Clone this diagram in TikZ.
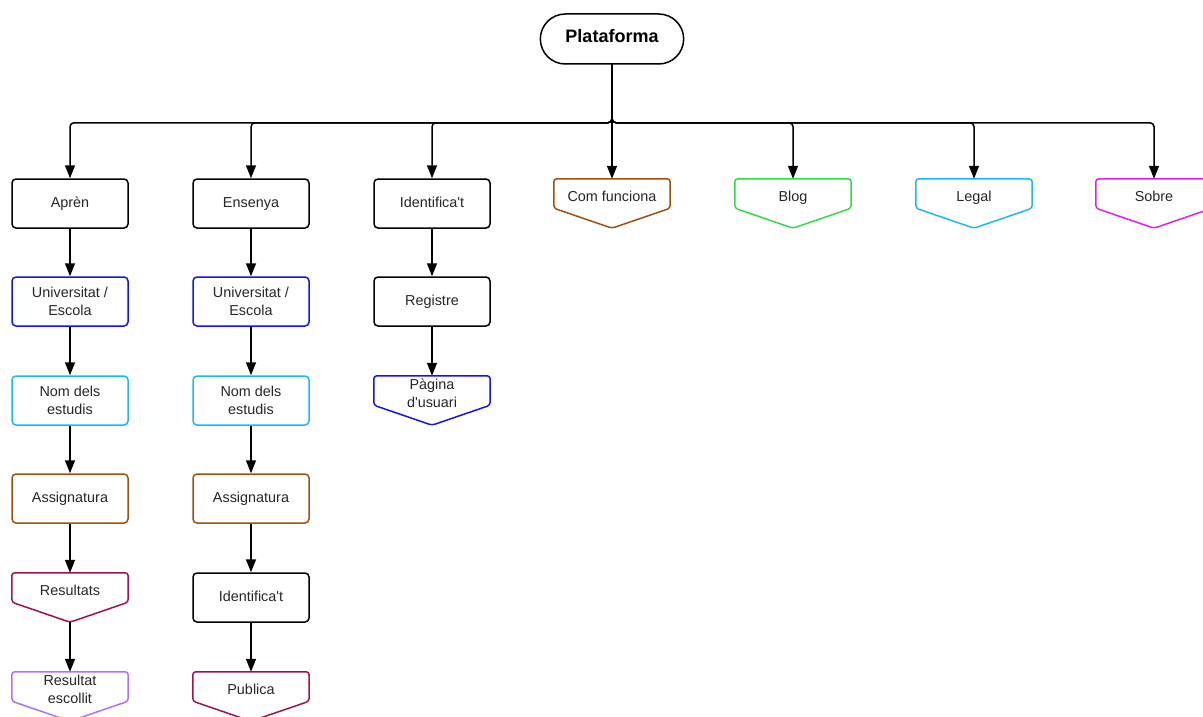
\documentclass[tikz,border=0pt]{standalone}
\usepackage{fontspec}
\setmainfont{Liberation Sans}[Ligatures=TeXOff]
\usetikzlibrary{arrows.meta,shapes.misc,calc}
\definecolor{cblue}{HTML}{1414F0}
\definecolor{ccyan}{HTML}{1CB8F0}
\definecolor{cbrown}{HTML}{A0500F}
\definecolor{ccrim}{HTML}{A0105A}
\definecolor{cgreen}{HTML}{33D84A}
\definecolor{clav}{HTML}{B070FF}
\definecolor{cmag}{HTML}{E020E8}
\tikzset{
  box/.style={draw=#1, line width=1.5pt, rounded corners=4pt, minimum width=116pt, minimum height=49pt,
    inner sep=2pt, align=center, font=\fontsize{14.4}{18}\selectfont, text=black!85},
  box/.default=black,
  one/.style={text height=10.5pt, text depth=3pt},
  pentnode/.style={minimum width=116pt, minimum height=34pt, inner sep=1pt, align=center,
    font=\fontsize{14.4}{18}\selectfont, text=black!85},
  pentone/.style={pentnode, text height=12.5pt, text depth=1pt},
  pentline/.style={draw=#1, line width=1.5pt, rounded corners=3pt},
  conn/.style={line width=1.5pt, rounded corners=4pt, -{Triangle[length=13pt,width=10pt]}},
  root/.style={draw, line width=1.5pt, rounded rectangle, minimum width=150pt, minimum height=50pt,
    font=\fontsize{18}{22}\selectfont\bfseries}
}
\newcommand{\pentdraw}[2]{%
  \coordinate (#1-tip) at ([yshift=-15pt]#1.south);
  \draw[pentline=#2] (#1.north west) -- (#1.north east) -- ([yshift=5pt]#1.south east) -- (#1-tip) -- ([yshift=5pt]#1.south west) -- cycle;}
\begin{document}
\begin{tikzpicture}[x=1pt,y=-1pt]
\useasboundingbox (0,0) rectangle (1203,717);
\clip (0,0) rectangle (1203,717);
\node[root, one] (plat) at (612,39) {Plataforma};
% row 1
\node[box, one] (apren) at (70,203.5) {Aprèn};
\node[box, one] (ens) at (251,203.5) {Ensenya};
\node[box, one] (ident) at (432,203.5) {Identifica't};
\node[pentone] (com) at (612,196) {Com funciona};
\node[pentone] (blog) at (793,196) {Blog};
\node[pentone] (legal) at (974,196) {Legal};
\node[pentone] (sobre) at (1154,196) {Sobre};
\pentdraw{com}{cbrown}
\pentdraw{blog}{cgreen}
\pentdraw{legal}{ccyan}
\pentdraw{sobre}{cmag}
% column 1
\node[box=cblue] (u1) at (70,301.5) {Universitat /\\Escola};
\node[box=ccyan] (n1) at (70,400.5) {Nom dels\\estudis};
\node[box=cbrown, one] (a1) at (70,498.5) {Assignatura};
\node[pentone] (res) at (70,590) {Resultats};
\pentdraw{res}{ccrim}
\node[pentnode] (resc) at (70,689) {Resultat\\escollit};
\pentdraw{resc}{clav}
% column 2
\node[box=cblue] (u2) at (251,301.5) {Universitat /\\Escola};
\node[box=ccyan] (n2) at (251,400.5) {Nom dels\\estudis};
\node[box=cbrown, one] (a2) at (251,498.5) {Assignatura};
\node[box, one] (id2) at (251,597.5) {Identifica't};
\node[pentone] (pub) at (251,689) {Publica};
\pentdraw{pub}{ccrim}
% column 3
\node[box, one] (reg) at (432,301.5) {Registre};
\node[pentnode] (pag) at (432,393) {Pàgina\\d'usuari};
\pentdraw{pag}{cblue}
% connectors from root
\foreach \c in {apren,ens,ident,com,blog,legal,sobre}
  \draw[conn] (plat.south) -- ++(0,58) -| (\c.north);
% vertical chains
\draw[conn] (apren.south) -- (u1.north);
\draw[conn] (u1.south) -- (n1.north);
\draw[conn] (n1.south) -- (a1.north);
\draw[conn] (a1.south) -- (res.north);
\draw[conn] (res-tip) -- (resc.north);
\draw[conn] (ens.south) -- (u2.north);
\draw[conn] (u2.south) -- (n2.north);
\draw[conn] (n2.south) -- (a2.north);
\draw[conn] (a2.south) -- (id2.north);
\draw[conn] (id2.south) -- (pub.north);
\draw[conn] (ident.south) -- (reg.north);
\draw[conn] (reg.south) -- (pag.north);
\end{tikzpicture}
\end{document}
